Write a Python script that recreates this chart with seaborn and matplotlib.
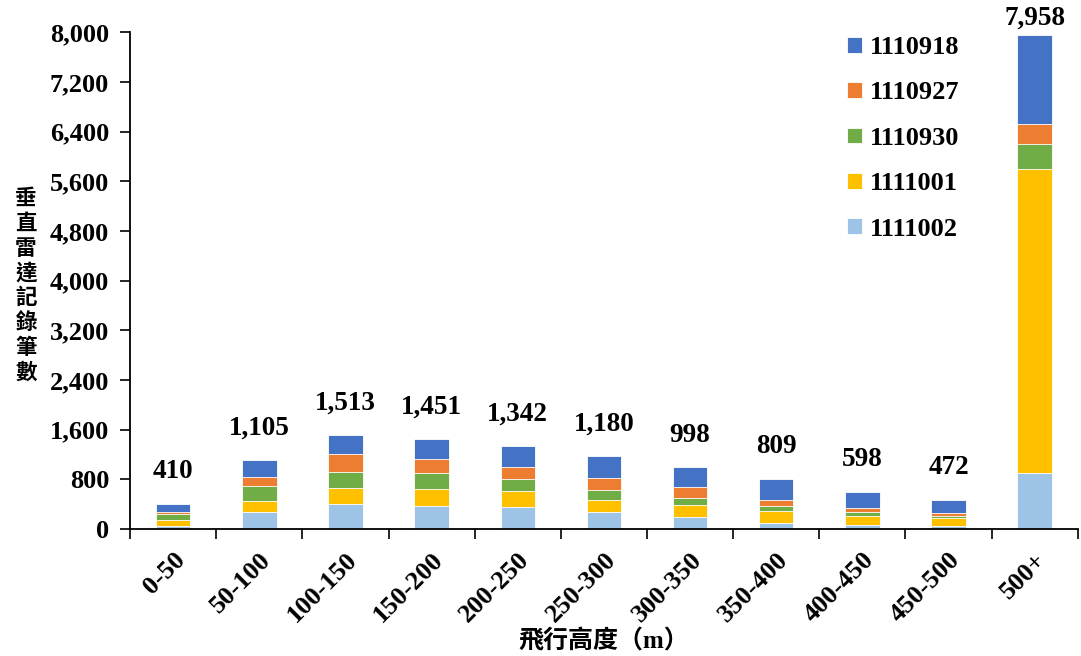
import numpy as np
import pandas as pd
import seaborn as sns
import matplotlib.pyplot as plt
from matplotlib.ticker import FuncFormatter, FixedLocator

sns.set_theme(style="white")
plt.rcParams['font.family'] = ['Liberation Serif', 'Noto Sans CJK TC', 'DejaVu Sans']
plt.rcParams['font.weight'] = 'bold'
plt.rcParams['text.color'] = 'black'
plt.rcParams['axes.labelcolor'] = 'black'

# altitude bins
heights = ["0-50", "50-100", "100-150", "150-200", "200-250", "250-300",
           "300-350", "350-400", "400-450", "450-500", "500+"]

# records per date (stack order: bottom -> top)
d1111002 = [55, 272, 395, 375, 357, 276, 186, 99, 72, 45, 900]
d1111001 = [85, 175, 260, 266, 250, 195, 200, 191, 141, 128, 4895]
d1110930 = [95, 250, 256, 256, 195, 163, 119, 87, 66, 44, 412]
d1110927 = [35, 138, 293, 228, 200, 185, 169, 94, 56, 45, 320]
d1110918 = [140, 270, 309, 326, 340, 361, 324, 338, 263, 210, 1431]

series = ["1111002", "1111001", "1110930", "1110927", "1110918"]
colors = ["#9DC3E6", "#FFC000", "#70AD47", "#ED7D31", "#4472C4"]

data = pd.DataFrame({"高度": heights, "1111002": d1111002, "1111001": d1111001,
                     "1110930": d1110930, "1110927": d1110927, "1110918": d1110918})
cum = data[series].cumsum(axis=1)
totals = cum[series[-1]]

fig, ax = plt.subplots(figsize=(10.81, 6.56), dpi=100)
fig.subplots_adjust(left=0.1203, right=0.997, bottom=0.1936, top=0.951)

# draw from the top of the stack down so the lower segments overlay
for name, col in zip(series[::-1], colors[::-1]):
    sns.barplot(x=data["高度"], y=cum[name], color=col, saturation=1, width=0.4,
                edgecolor="white", linewidth=0.6, label=name, ax=ax)

for i, t in enumerate(totals):
    off = 14 if t < 7000 else 3
    ax.annotate(f"{t:,}", (i, t), xytext=(0, off), textcoords="offset points",
                ha="center", va="bottom", fontsize=19.5, fontweight="bold",
                color="black", clip_on=False)

ax.set_ylim(0, 8000)
ax.set_xlim(-0.5, len(heights) - 0.5)
ax.yaxis.set_major_locator(FixedLocator(np.arange(0, 8001, 800)))
ax.yaxis.set_major_formatter(FuncFormatter(lambda v, p: f"{v:,.0f}"))
ax.tick_params(axis="y", which="major", direction="out", length=7, width=1.2,
               left=True, labelsize=19, pad=8, colors="black")
ax.set_xticks(np.arange(-0.5, len(heights), 1), minor=True)
ax.tick_params(axis="x", which="minor", direction="out", length=7, width=1.2,
               bottom=True, color="black")
ax.tick_params(axis="x", which="major", length=0, labelsize=19, pad=14,
               colors="black")
plt.setp(ax.get_xticklabels(), rotation=45, ha="right", rotation_mode="anchor",
         fontweight="bold")
plt.setp(ax.get_yticklabels(), fontweight="bold")

for s in ["top", "right"]:
    ax.spines[s].set_visible(False)
for s in ["left", "bottom"]:
    ax.spines[s].set_color("black")
    ax.spines[s].set_linewidth(1.3)
ax.grid(False)

ax.set_xlabel("飛行高度（m）", fontsize=18, fontweight="bold", labelpad=2)
ax.set_ylabel("")
fig.text(0.024, 0.565, "\n".join("垂直雷達記錄筆數"), ha="center", va="center",
         fontsize=15.5, fontweight="bold", linespacing=1.22,
         family=['Noto Sans CJK TC', 'Liberation Serif'])

leg = ax.legend(loc="upper right", bbox_to_anchor=(0.9, 1.04), frameon=False,
                prop={"size": 19, "weight": "bold"}, handlelength=0.55,
                handleheight=0.55, handletextpad=0.3, labelspacing=0.85)

fig.savefig("out.png", dpi=100)
